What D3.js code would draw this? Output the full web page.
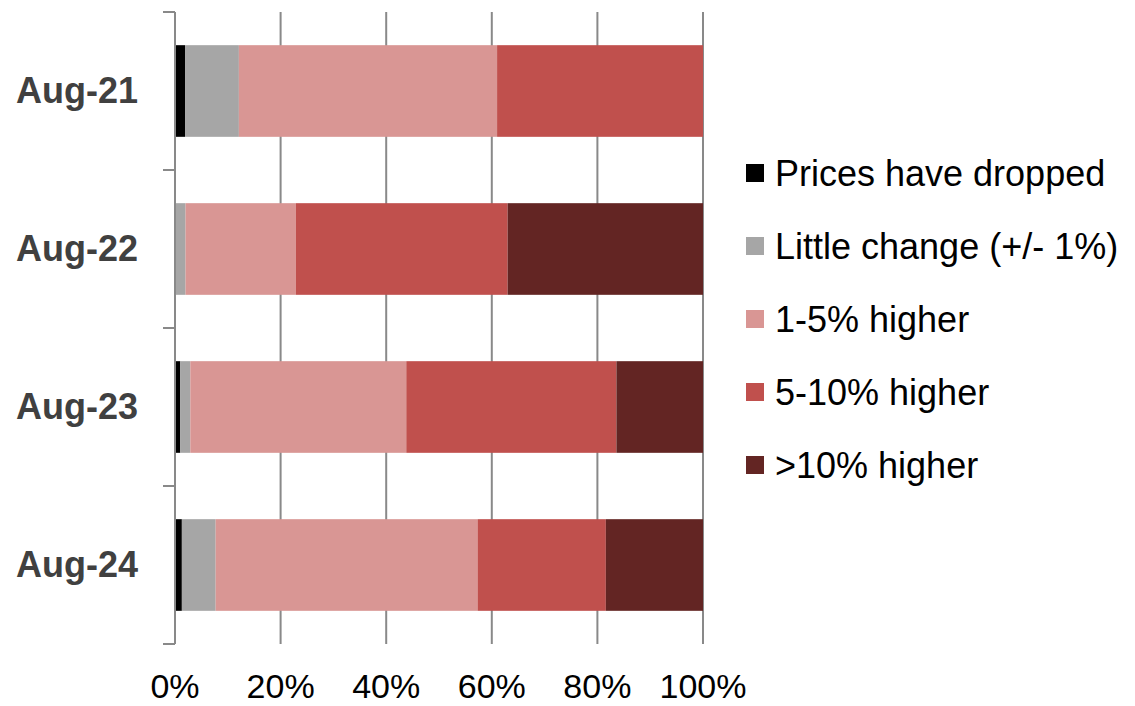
<!DOCTYPE html>
<html>
<head>
<meta charset="utf-8">
<script src="https://cdn.jsdelivr.net/npm/d3@7"></script>
<style>
  html, body { margin: 0; padding: 0; background: #fff; }
  svg { display: block; font-family: "Liberation Sans", Arial, Helvetica, sans-serif; }
</style>
</head>
<body>
<svg id="chart" width="1135" height="706"></svg>
<script>
// Survey periods (one horizontal bar each)
const categories = ["Aug-21", "Aug-22", "Aug-23", "Aug-24"];

// Response groups, in stacking order
const seriesNames = [
  "Prices have dropped",
  "Little change (+/- 1%)",
  "1-5% higher",
  "5-10% higher",
  ">10% higher"
];

// Share of responses (%) per period
const pricesDropped = [1.9, 0.0, 1.0, 1.3];
const littleChange  = [10.2, 2.0, 1.9, 6.4];
const higher1to5    = [48.9, 20.9, 40.9, 49.6];
const higher5to10   = [39.0, 40.1, 39.8, 24.3];
const higherOver10  = [0.0, 37.0, 16.4, 18.4];

const xTickValues = [0, 20, 40, 60, 80, 100];
const xTickLabels = ["0%", "20%", "40%", "60%", "80%", "100%"];

const colors = ["#000000", "#a6a6a6", "#d99694", "#c0504d", "#632523"];

const seriesValues = [pricesDropped, littleChange, higher1to5, higher5to10, higherOver10];
const rows = categories.map((c, i) => {
  const r = { category: c };
  seriesNames.forEach((s, j) => { r[s] = seriesValues[j][i]; });
  return r;
});

const svg = d3.select("#chart");

const x = d3.scaleLinear().domain([0, 100]).range([175, 703]);
const y = d3.scaleBand()
  .domain(categories)
  .range([12, 644])
  .paddingInner(0.42)
  .paddingOuter(0.21);

const axisColor = "#898989";

// Vertical gridlines (behind the bars)
svg.append("g")
  .selectAll("line")
  .data(xTickValues.filter(v => v > 0))
  .join("line")
  .attr("x1", d => x(d)).attr("x2", d => x(d))
  .attr("y1", 12).attr("y2", 644)
  .attr("stroke", axisColor)
  .attr("stroke-width", 2);

// Stacked bars
const stack = d3.stack().keys(seriesNames);
const stacked = stack(rows);

svg.append("g")
  .selectAll("g")
  .data(stacked)
  .join("g")
  .attr("fill", (d, i) => colors[i])
  .selectAll("rect")
  .data(d => d)
  .join("rect")
  .attr("x", d => x(d[0]))
  .attr("width", d => Math.max(0, x(d[1]) - x(d[0])))
  .attr("y", d => y(d.data.category))
  .attr("height", y.bandwidth());

// Category axis: line plus ticks at band boundaries
const step = y.step();
const boundaries = d3.range(categories.length + 1).map(i => 12 + i * step);
const yAxis = svg.append("g");
yAxis.append("line")
  .attr("x1", 175).attr("x2", 175)
  .attr("y1", 12).attr("y2", 644)
  .attr("stroke", axisColor).attr("stroke-width", 2);
yAxis.selectAll("line.tick")
  .data(boundaries)
  .join("line")
  .attr("class", "tick")
  .attr("x1", 163).attr("x2", 175)
  .attr("y1", d => d).attr("y2", d => d)
  .attr("stroke", axisColor).attr("stroke-width", 2);

// Category labels
svg.append("g")
  .selectAll("text")
  .data(categories)
  .join("text")
  .attr("x", 138)
  .attr("y", d => y(d) + y.bandwidth() / 2 + 12)
  .attr("text-anchor", "end")
  .attr("font-size", 36)
  .attr("font-weight", "bold")
  .attr("fill", "#404040")
  .text(d => d);

// Percentage labels along the bottom
svg.append("g")
  .selectAll("text")
  .data(xTickValues)
  .join("text")
  .attr("x", d => x(d))
  .attr("y", 698)
  .attr("text-anchor", "middle")
  .attr("font-size", 34)
  .attr("fill", "#000")
  .text((d, i) => xTickLabels[i]);

// Legend
const legend = svg.append("g")
  .selectAll("g")
  .data(seriesNames)
  .join("g")
  .attr("transform", (d, i) => `translate(746, ${173 + i * 73})`);

legend.append("rect")
  .attr("x", 0).attr("y", -9)
  .attr("width", 18).attr("height", 18)
  .attr("fill", (d, i) => colors[i]);

legend.append("text")
  .attr("x", 29)
  .attr("y", 13)
  .attr("font-size", 36)
  .attr("fill", "#000")
  .text(d => d);
</script>
</body>
</html>
